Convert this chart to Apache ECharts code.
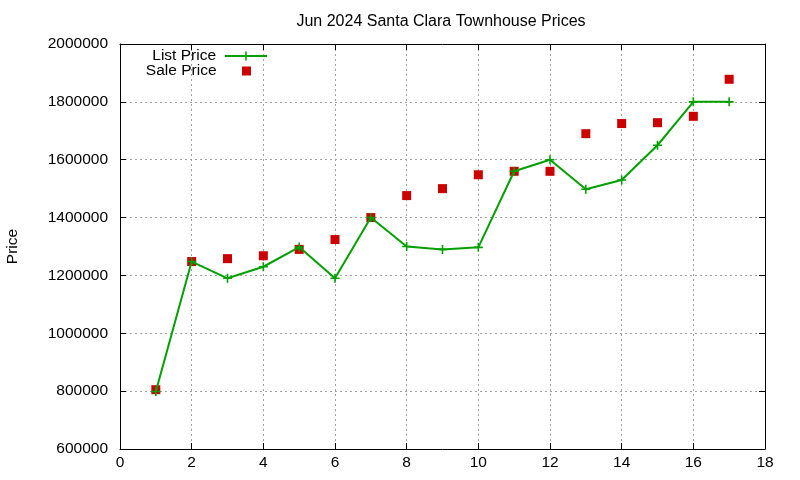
<!DOCTYPE html>
<html>
<head>
<meta charset="utf-8">
<script src="https://cdn.jsdelivr.net/npm/echarts@6/dist/echarts.min.js"></script>
<style>
  html, body { margin: 0; padding: 0; background: #fff; }
  #chart { width: 800px; height: 480px; }
</style>
</head>
<body>
<div id="chart"></div>
<script>
// data
var months = [1, 2, 3, 4, 5, 6, 7, 8, 9, 10, 11, 12, 13, 14, 15, 16, 17];
var listPrice = [799000, 1248000, 1190000, 1230000, 1298000, 1190000, 1400000, 1300000, 1290000,
  1297000, 1560000, 1600000, 1498000, 1530000, 1650000, 1800000, 1800000];
var salePrice = [805000, 1248000, 1258000, 1268000, 1290000, 1324000, 1400000, 1476000, 1500000,
  1548000, 1560000, 1560000, 1690000, 1725000, 1728000, 1750000, 1878000];

var FONT = "Liberation Sans, Arial, sans-serif";
var PLUS = "path://M3.5,0h1.5v8.5h-1.5zM0,3.5h8.5v1.5h-8.5z";
var SQUARE = "path://M0,0h10v10h-10z";

function pairs(xs, ys) {
  return xs.map(function(x, i) { return [x, ys[i]]; });
}

var chart = echarts.init(document.getElementById("chart"));

var gridLine = { show: true, lineStyle: { color: "#a0a0a0", type: [2, 3], width: 1 } };
var border = { show: true, onZero: false, lineStyle: { color: "#000", width: 1 } };
var tick = { show: true, inside: true, length: 6, lineStyle: { color: "#000" } };
var legendText = { fontFamily: FONT, fontSize: 15.5, color: "#000", lineHeight: 16, padding: [0, 4, 0, 0] };

var option = {
  animation: false,
  textStyle: { fontFamily: FONT },
  title: {
    text: "Jun 2024 Santa Clara Townhouse Prices",
    left: 436, top: 9, textAlign: "center",
    textStyle: { fontFamily: FONT, fontSize: 16, fontWeight: "normal", color: "#000" }
  },
  legend: [
    {
      data: ["List Price"],
      right: 532, top: 48, padding: 0, align: "right",
      itemWidth: 42, itemHeight: 11,
      textStyle: legendText
    },
    {
      data: [{ name: "Sale Price", icon: SQUARE }],
      right: 549, top: 63, padding: 0, align: "right",
      itemWidth: 42, itemHeight: 9,
      itemStyle: { opacity: 1 },
      textStyle: legendText
    }
  ],
  grid: { left: 120, right: 35, top: 44, bottom: 31, outerBoundsMode: "none", containLabel: false },
  xAxis: [
    {
      type: "value", min: 0, max: 18, interval: 2,
      axisLine: border, axisTick: tick, splitLine: gridLine,
      axisLabel: { fontFamily: FONT, fontSize: 15.5, color: "#000", margin: 6 }
    },
    {
      type: "value", position: "top", min: 0, max: 18, interval: 2,
      axisLine: border, axisTick: tick, splitLine: { show: false },
      axisLabel: { show: false }
    }
  ],
  yAxis: [
    {
      type: "value", min: 600000, max: 2000000, interval: 200000,
      name: "Price", nameLocation: "middle", nameGap: 99, nameRotate: 90,
      nameTextStyle: { fontFamily: FONT, fontSize: 15.5, color: "#000" },
      axisLine: border, axisTick: tick, splitLine: gridLine,
      axisLabel: {
        fontFamily: FONT, fontSize: 15.5, color: "#000", margin: 12,
        formatter: function(v) { return String(v); }
      }
    },
    {
      type: "value", position: "right", min: 600000, max: 2000000, interval: 200000,
      axisLine: border, axisTick: tick, splitLine: { show: false },
      axisLabel: { show: false }
    }
  ],
  series: [
    {
      name: "List Price",
      type: "line",
      data: pairs(months, listPrice),
      symbol: PLUS, symbolSize: 9,
      showAllSymbol: true,
      itemStyle: { color: "#00a000" },
      lineStyle: { color: "#00a000", width: 2 },
      z: 3
    },
    {
      name: "Sale Price",
      type: "scatter",
      data: pairs(months, salePrice),
      symbol: "rect", symbolSize: 9,
      itemStyle: { color: "#cc0000", opacity: 1 },
      z: 2
    }
  ]
};

chart.setOption(option);
</script>
</body>
</html>
